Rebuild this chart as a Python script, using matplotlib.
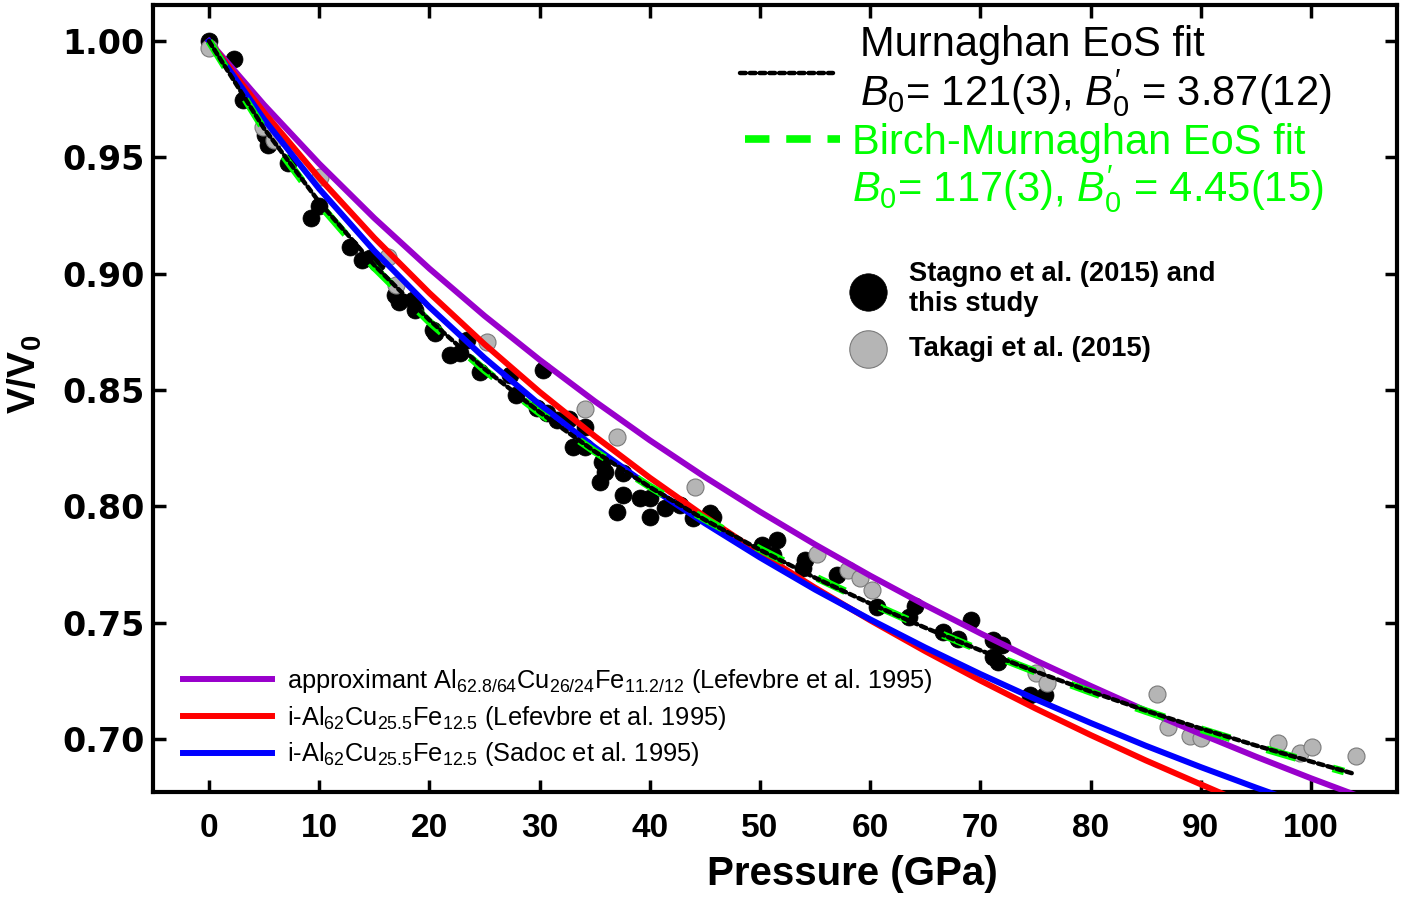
import matplotlib
matplotlib.use("Agg")
import matplotlib.pyplot as plt
from matplotlib import font_manager
from matplotlib.lines import Line2D


def has_font(name):
    try:
        font_manager.findfont(font_manager.FontProperties(family=name),
                              fallback_to_default=False)
        return True
    except ValueError:
        return False


NARROW = "Liberation Sans Narrow" if has_font("Liberation Sans Narrow") else "Liberation Sans"
BOLD = "Liberation Sans"

plt.rcParams["mathtext.fontset"] = "custom"
plt.rcParams["mathtext.rm"] = NARROW
plt.rcParams["mathtext.it"] = NARROW + ":italic"
plt.rcParams["mathtext.bf"] = BOLD + ":bold"

# Stagno et al. (2015) and this study
stagno_p = [0.0, 2.3, 3.1, 5.1, 5.4, 7.2, 9.3, 10.0, 12.8, 13.9, 14.6, 15.2,
            16.9, 17.2, 18.5, 18.7, 20.3, 20.5, 21.9, 22.8, 23.4, 24.6, 27.3,
            27.9, 29.8, 30.3, 30.7, 31.6, 32.7, 33.0, 34.1, 34.1, 35.5, 35.7,
            35.9, 37.0, 37.6, 37.6, 39.1, 40.0, 40.0, 41.4, 42.7, 43.9, 45.5,
            45.7, 50.2, 51.2, 51.5, 53.9, 54.1, 57.0, 60.6, 63.5, 64.1, 66.6,
            68.0, 69.1, 71.1, 71.1, 71.6, 72.0, 74.5, 75.9]
stagno_v = [1.000, 0.9925, 0.9746, 0.9596, 0.9553, 0.9476, 0.9239, 0.9290,
            0.9114, 0.9058, 0.9067, 0.9045, 0.8910, 0.8878, 0.8886, 0.8843,
            0.8758, 0.8745, 0.8650, 0.8659, 0.8714, 0.8577, 0.8564, 0.8478,
            0.8422, 0.8586, 0.8400, 0.8370, 0.8375, 0.8255, 0.8340, 0.8255,
            0.8104, 0.8190, 0.8147, 0.7975, 0.8143, 0.8048, 0.8035, 0.8035,
            0.7954, 0.7992, 0.8005, 0.7950, 0.7970, 0.7954, 0.7833, 0.7790,
            0.7855, 0.7734, 0.7769, 0.7704, 0.7567, 0.7524, 0.7570, 0.7459,
            0.7430, 0.7510, 0.7425, 0.7352, 0.7330, 0.7403, 0.7188, 0.7188]

# Takagi et al. (2015)
takagi_p = [0.0, 4.9, 5.9, 10.1, 16.2, 17.0, 25.2, 34.1, 37.0, 44.1, 55.2,
            58.0, 59.1, 60.2, 75.0, 76.0, 86.0, 87.0, 89.0, 90.0, 97.0, 99.0,
            100.1, 104.1]
takagi_v = [0.9970, 0.9630, 0.9574, 0.9415, 0.9070, 0.8950, 0.8706, 0.8420,
            0.8297, 0.8083, 0.7795, 0.7726, 0.7691, 0.7640, 0.7283, 0.7240,
            0.7193, 0.7051, 0.7012, 0.7003, 0.6982, 0.6939, 0.6965, 0.6926]

# EoS fits
murn_p = [0, 5, 10, 15, 20, 25, 30, 35, 40, 45, 50, 55, 60, 65, 70, 75, 80,
          85, 90, 95, 100, 104]
murn_v = [1.0, 0.9624, 0.9308, 0.9037, 0.8801, 0.8591, 0.8405, 0.8236,
          0.8083, 0.7942, 0.7813, 0.7693, 0.7582, 0.7478, 0.7381, 0.7290,
          0.7204, 0.7122, 0.7045, 0.6972, 0.6903, 0.6849]

bm_p = [0, 5, 10, 15, 20, 25, 30, 35, 40, 45, 50, 55, 60, 65, 70, 75, 80,
        85, 90, 95, 100, 103]
bm_v = [1.0, 0.9620, 0.9300, 0.9027, 0.8793, 0.8586, 0.8402, 0.8236, 0.8085,
        0.7945, 0.7816, 0.7696, 0.7584, 0.7479, 0.7381, 0.7289, 0.7202,
        0.7120, 0.7042, 0.6969, 0.6900, 0.6860]

# literature curves
approx_p = [0, 5, 10, 15, 20, 25, 30, 35, 40, 45, 50, 55, 60, 65, 70, 75, 80,
            85, 90, 95, 100, 104]
approx_v = [1.0, 0.9726, 0.9473, 0.9239, 0.9022, 0.8819, 0.8630, 0.8452,
            0.8284, 0.8126, 0.7977, 0.7836, 0.7702, 0.7575, 0.7454, 0.7338,
            0.7228, 0.7122, 0.7021, 0.6924, 0.6831, 0.6760]

lef_p = [0, 5, 10, 15, 20, 25, 30, 35, 40, 45, 50, 55, 60, 65, 70, 75, 80,
         85, 90, 92]
lef_v = [1.0, 0.9693, 0.9412, 0.9154, 0.8917, 0.8697, 0.8492, 0.8302, 0.8123,
         0.7956, 0.7798, 0.7650, 0.7510, 0.7377, 0.7251, 0.7131, 0.7017,
         0.6908, 0.6805, 0.6764]

sadoc_p = [0, 5, 10, 15, 20, 25, 30, 35, 40, 45, 50, 55, 60, 65, 70, 75, 80,
           85, 90, 95, 97]
sadoc_v = [1.0, 0.9663, 0.9365, 0.9098, 0.8857, 0.8638, 0.8438, 0.8254,
           0.8084, 0.7927, 0.7780, 0.7642, 0.7514, 0.7393, 0.7279, 0.7171,
           0.7069, 0.6971, 0.6879, 0.6791, 0.6757]

fig = plt.figure(figsize=(14.18, 8.99), dpi=100)
ax = fig.add_axes([0.1079, 0.1190, 0.8773, 0.8754])

pts_black = ax.scatter(stagno_p, stagno_v, s=150, c="black",
                       edgecolors="black", linewidths=0.5, zorder=2)
pts_gray = ax.scatter(takagi_p, takagi_v, s=150, c="#b5b5b5",
                      edgecolors="#7a7a7a", linewidths=0.8, zorder=2)

l_approx, = ax.plot(approx_p, approx_v, color="#9900cc", lw=4.3, zorder=3)
l_lef, = ax.plot(lef_p, lef_v, color="#ff0000", lw=4.3, zorder=3)
l_sadoc, = ax.plot(sadoc_p, sadoc_v, color="#0000ff", lw=4.3, zorder=3)

l_bm, = ax.plot(bm_p, bm_v, color="#00ff00", lw=5.5,
                linestyle=(0, (4, 5)), zorder=4)
l_murn, = ax.plot(murn_p, murn_v, color="black", lw=3.2,
                  linestyle=(0, (1.3, 0.9)), dash_capstyle="round", zorder=5)

ax.set_xlim(-5.08, 107.8)
ax.set_ylim(0.6772, 1.0155)
ax.set_xticks(range(0, 101, 10))
ax.set_yticks([0.70, 0.75, 0.80, 0.85, 0.90, 0.95, 1.00])
ax.set_yticklabels([f"{t:.2f}" for t in ax.get_yticks()])

for s in ax.spines.values():
    s.set_linewidth(3)
ax.tick_params(which="both", direction="in", top=True, right=True,
               length=9, width=2.5)
ax.tick_params(axis="x", pad=15)
ax.tick_params(axis="y", pad=6)
for lab in ax.get_xticklabels():
    lab.set_fontfamily(BOLD)
    lab.set_fontweight("bold")
    lab.set_fontsize(24)
for lab in ax.get_yticklabels():
    lab.set_fontfamily("DejaVu Sans")
    lab.set_fontweight("bold")
    lab.set_fontsize(24)

ax.set_xlabel("Pressure (GPa)", fontsize=29, fontweight="bold", family=BOLD)
ax.xaxis.set_label_coords(0.562, -0.080)
ax.set_ylabel(r"V/V$_\mathbf{0}$", fontsize=28, fontweight="bold",
              family=BOLD)
ax.yaxis.set_label_coords(-0.088, 0.53)

# Murnaghan legend entry (handle centred on the two lines)
leg1a = ax.legend(
    [l_murn],
    ["Murnaghan EoS fit\n$B_{\\mathit{0}}$= 121(3), $B^{\\prime}_{\\mathit{0}}$ = 3.87(12)"],
    loc="upper left", bbox_to_anchor=(0.4719, 0.975), frameon=False,
    prop={"family": NARROW, "size": 30}, handlelength=2.23,
    handletextpad=0.65, borderpad=0, borderaxespad=0)
leg1a.get_texts()[0].set_linespacing(1.05)
ax.add_artist(leg1a)

# Birch-Murnaghan legend entry (handle on the first line)
bm_handle = Line2D([], [], color="#00ff00", lw=5.5, linestyle=(0, (3.2, 2.2)))
blank = Line2D([], [], lw=0, color="none")
leg1b = ax.legend(
    [bm_handle, blank],
    ["Birch-Murnaghan EoS fit",
     "$B_{\\mathit{0}}$= 117(3), $B^{\\prime}_{\\mathit{0}}$ = 4.45(15)"],
    loc="upper left", bbox_to_anchor=(0.4759, 0.8505), frameon=False,
    prop={"family": NARROW, "size": 30}, handlelength=2.28,
    handletextpad=0.29, labelspacing=0.0, borderpad=0, borderaxespad=0)
for t in leg1b.get_texts():
    t.set_color("#00ff00")
ax.add_artist(leg1b)

# data legend
leg2 = ax.legend(
    [pts_black, pts_gray],
    ["Stagno et al. (2015) and\nthis study", "Takagi et al. (2015)"],
    loc="upper left", bbox_to_anchor=(0.553, 0.675), frameon=False,
    prop={"family": NARROW, "size": 19.7, "weight": "bold"},
    markerscale=2.2, handletextpad=0.5, labelspacing=0.7,
    borderpad=0, borderaxespad=0)
ax.add_artist(leg2)

# literature legend
ax.legend(
    [l_approx, l_lef, l_sadoc],
    ["approximant Al$_{62.8/64}$Cu$_{26/24}$Fe$_{11.2/12}$ (Lefevbre et al. 1995)",
     "i-Al$_{62}$Cu$_{25.5}$Fe$_{12.5}$ (Lefevbre et al. 1995)",
     "i-Al$_{62}$Cu$_{25.5}$Fe$_{12.5}$ (Sadoc et al. 1995)"],
    loc="lower left", bbox_to_anchor=(0.024, 0.03), frameon=False,
    prop={"family": NARROW, "size": 18.3}, handlelength=3.5,
    handletextpad=0.6, labelspacing=0.35, borderpad=0, borderaxespad=0)

fig.savefig("out.png", dpi=100)
